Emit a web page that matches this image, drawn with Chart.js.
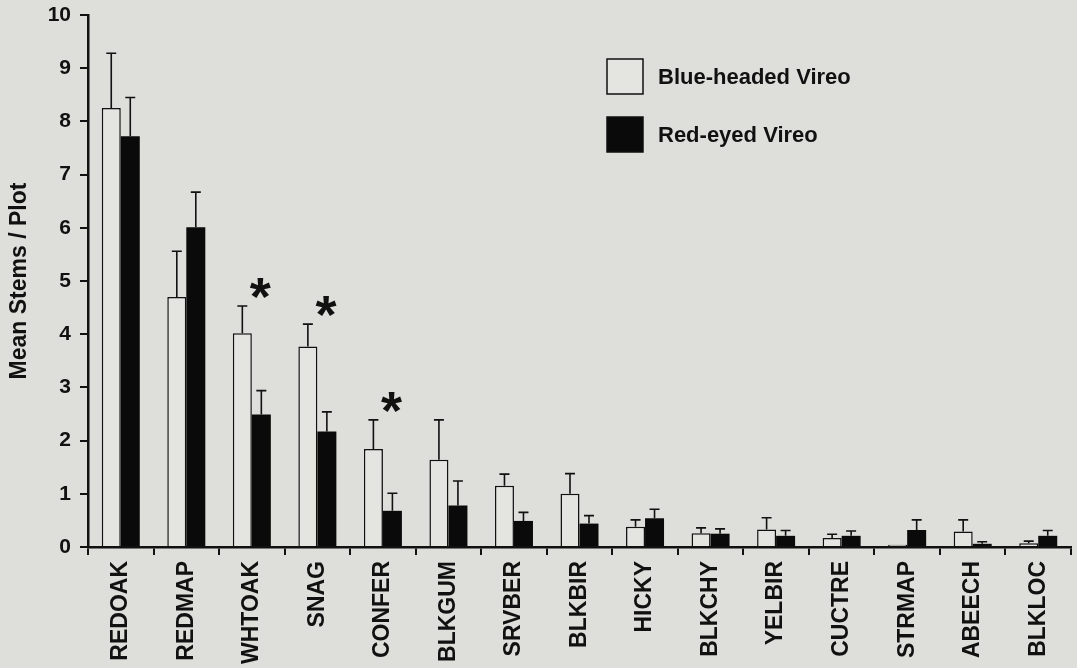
<!DOCTYPE html>
<html>
<head>
<meta charset="utf-8">
<script src="https://cdn.jsdelivr.net/npm/chart.js@4/dist/chart.umd.min.js"></script>
<style>
  html, body { margin: 0; padding: 0; background: #dededa; }
  #wrap { width: 1077px; height: 668px; position: relative; }
</style>
</head>
<body>
<div id="wrap"><canvas id="c"></canvas></div>
<script>
// Tree species codes
const species = ['REDOAK','REDMAP','WHTOAK','SNAG','CONFER','BLKGUM','SRVBER','BLKBIR','HICKY','BLKCHY','YELBIR','CUCTRE','STRMAP','ABEECH','BLKLOC'];

// Mean stems per plot
const blueHeaded = [8.25, 4.70, 4.02, 3.77, 1.84, 1.64, 1.15, 1.00, 0.38, 0.26, 0.33, 0.17, 0.04, 0.29, 0.07];
const redEyed    = [7.72, 6.01, 2.49, 2.17, 0.68, 0.78, 0.49, 0.44, 0.54, 0.25, 0.21, 0.21, 0.32, 0.06, 0.21];

// Standard errors (drawn upward only)
const blueHeadedSE = [1.03, 0.86, 0.51, 0.42, 0.55, 0.75, 0.22, 0.38, 0.13, 0.10, 0.22, 0.07, 0.00, 0.22, 0.04];
const redEyedSE    = [0.73, 0.66, 0.45, 0.37, 0.33, 0.46, 0.16, 0.15, 0.17, 0.09, 0.10, 0.09, 0.19, 0.04, 0.10];

// Species with a significant difference between the two vireos
const significant = ['WHTOAK', 'SNAG', 'CONFER'];

const yTicks = [0,1,2,3,4,5,6,7,8,9,10];

const FONT = "'Liberation Sans', Arial, Helvetica, sans-serif";
const INK = '#111111';

const background = {
  id: 'background',
  beforeDraw(chart) {
    const ctx = chart.ctx;
    ctx.save();
    ctx.fillStyle = '#dededa';
    ctx.fillRect(0, 0, chart.width, chart.height);
    ctx.restore();
  }
};

// Upper error bars with a short cap
const errorBars = {
  id: 'errorBars',
  afterDatasetsDraw(chart) {
    const ctx = chart.ctx;
    const y = chart.scales.y;
    const errs = [blueHeadedSE, redEyedSE];
    ctx.save();
    ctx.strokeStyle = INK;
    ctx.lineWidth = 1.6;
    chart.data.datasets.forEach((ds, di) => {
      const meta = chart.getDatasetMeta(di);
      meta.data.forEach((bar, i) => {
        const se = errs[di][i];
        if (!se) return;
        const top = y.getPixelForValue(ds.data[i] + se);
        const base = y.getPixelForValue(ds.data[i]);
        ctx.beginPath();
        ctx.moveTo(bar.x, base);
        ctx.lineTo(bar.x, top);
        ctx.moveTo(bar.x - 5, top);
        ctx.lineTo(bar.x + 5, top);
        ctx.stroke();
      });
    });
    ctx.restore();
  }
};

// Significance asterisks above the taller error bar
const asterisks = {
  id: 'asterisks',
  afterDatasetsDraw(chart) {
    const ctx = chart.ctx;
    const x = chart.scales.x, y = chart.scales.y;
    const step = x.width / species.length;
    ctx.save();
    ctx.fillStyle = INK;
    ctx.font = 'bold 54px ' + FONT;
    ctx.textAlign = 'center';
    ctx.textBaseline = 'middle';
    significant.forEach(code => {
      const i = species.indexOf(code);
      const top = Math.max(blueHeaded[i] + blueHeadedSE[i], redEyed[i] + redEyedSE[i]);
      const px = x.getPixelForValue(i) + step * 0.13;
      const py = y.getPixelForValue(top + 0.3);
      ctx.fillText('*', px, py + 10);
    });
    ctx.restore();
  }
};

// Legend drawn inside the plot area
const boxLegend = {
  id: 'boxLegend',
  afterDraw(chart) {
    const ctx = chart.ctx;
    const x0 = 607, y0 = 59, gap = 58, bw = 36, bh = 35;
    ctx.save();
    chart.data.datasets.forEach((ds, i) => {
      const by = y0 + i * gap;
      ctx.fillStyle = ds.backgroundColor;
      ctx.fillRect(x0, by, bw, bh);
      ctx.strokeStyle = INK;
      ctx.lineWidth = 1.5;
      ctx.strokeRect(x0, by, bw, bh);
      ctx.fillStyle = INK;
      ctx.font = 'bold 22px ' + FONT;
      ctx.textAlign = 'left';
      ctx.textBaseline = 'middle';
      ctx.fillText(ds.label, x0 + 51, by + bh / 2 + 1);
    });
    ctx.restore();
  }
};

new Chart(document.getElementById('c'), {
  type: 'bar',
  data: {
    labels: species,
    datasets: [
      { label: 'Blue-headed Vireo', data: blueHeaded, backgroundColor: '#e4e4e0', borderColor: INK, borderWidth: 1.5, borderSkipped: 'bottom' },
      { label: 'Red-eyed Vireo', data: redEyed, backgroundColor: '#0a0a0a', borderColor: '#0a0a0a', borderWidth: 0 }
    ]
  },
  options: {
    responsive: true,
    maintainAspectRatio: false,
    animation: false,
    datasets: { bar: { categoryPercentage: 0.58, barPercentage: 1.0 } },
    layout: { padding: { left: 0, right: 6, top: 15, bottom: 0 } },
    plugins: {
      legend: { display: false },
      tooltip: { enabled: false }
    },
    scales: {
      x: {
        offset: true,
        grid: { offset: true, drawOnChartArea: false, drawTicks: true, tickLength: 8, color: INK, lineWidth: 2 },
        border: { display: true, color: INK, width: 2.5 },
        ticks: {
          color: INK, font: { family: FONT, size: 23, weight: 'bold' },
          minRotation: 90, maxRotation: 90, padding: 6, autoSkip: false
        },
        afterFit(scale) { scale.height = 121; scale.paddingLeft = 0; scale.paddingRight = 0; }
      },
      y: {
        min: 0, max: 10,
        afterBuildTicks(scale) { scale.ticks = yTicks.map(v => ({ value: v })); },
        grid: { drawOnChartArea: false, drawTicks: true, tickLength: 8, color: INK, lineWidth: 2 },
        border: { display: true, color: INK, width: 2.5 },
        ticks: { color: INK, font: { family: FONT, size: 21, weight: 'bold' }, padding: 9 },
        title: { display: true, text: 'Mean Stems / Plot', color: INK, font: { family: FONT, size: 23, weight: 'bold' }, padding: { top: 6, bottom: 0 } },
        afterFit(scale) { scale.width = 88; scale.paddingTop = 0; scale.paddingBottom = 0; }
      }
    }
  },
  plugins: [background, errorBars, asterisks, boxLegend]
});
</script>
</body>
</html>
